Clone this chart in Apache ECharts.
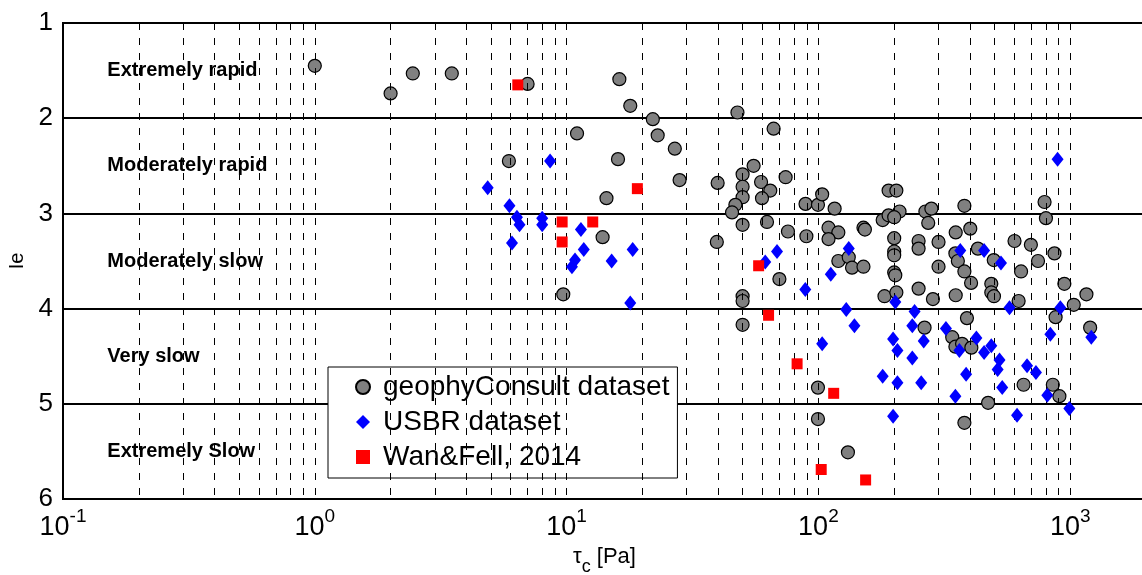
<!DOCTYPE html>
<html>
<head>
<meta charset="utf-8">
<script src="https://cdn.jsdelivr.net/npm/echarts@6/dist/echarts.min.js"></script>
<style>
  html, body { margin: 0; padding: 0; background: #fff; }
  #chart { width: 1142px; height: 575px; }
</style>
</head>
<body>
<div id="chart"></div>
<script>
// values: [tau_c (Pa), Ie]
const geophyConsult = [
  [1.0, 1.45], [2.0, 1.74], [2.45, 1.53], [3.5, 1.53], [7.0, 1.64], [5.9, 2.45],
  [9.7, 3.85], [16.2, 1.59], [17.9, 1.87], [22.0, 2.01], [47.7, 1.94], [11.0, 2.16],
  [23.0, 2.18], [26.9, 2.32], [66.4, 2.11], [16.0, 2.43], [28.1, 2.65], [39.8, 2.68],
  [50, 2.59], [50, 2.72], [55.3, 2.50], [59.2, 2.67], [64.4, 2.76], [74.1, 2.62],
  [14.4, 2.84], [50, 2.83], [59.7, 2.84], [46.8, 2.91], [45.4, 2.99], [50, 3.12],
  [62.5, 3.09], [13.9, 3.25], [39.5, 3.30], [50, 3.87], [50, 3.92], [50, 4.17],
  [75.7, 3.19], [70, 3.69], [88.9, 2.90], [99.6, 2.91], [103.5, 2.80], [116, 2.95],
  [89.6, 3.24], [109.7, 3.15], [120, 3.20], [109.7, 3.27], [151, 3.15], [153, 3.17],
  [120, 3.50], [132, 3.46], [136, 3.57], [151, 3.56], [183, 3.87], [190, 2.76],
  [204, 2.76], [180, 3.07], [190, 3.02], [210, 2.98], [200, 3.04], [200, 3.26],
  [200, 3.40], [200, 3.44], [200, 3.62], [202, 3.65], [204, 3.83], [250, 3.29],
  [250, 3.37], [250, 3.79], [300, 3.30], [300, 3.56], [285, 3.90], [266, 2.98],
  [281, 2.95], [273, 3.10], [264, 4.20], [340, 4.30], [350, 4.40], [99.6, 4.83],
  [99.6, 5.16], [131, 5.51], [380, 2.92], [791, 2.88], [801, 3.05], [351, 3.20],
  [401, 3.16], [601, 3.29], [698, 3.33], [866, 3.42], [430, 3.37], [497, 3.49],
  [745, 3.50], [350, 3.42], [358, 3.50], [380, 3.61], [638, 3.61], [404, 3.73],
  [486, 3.74], [486, 3.83], [498, 3.87], [351, 3.86], [948, 3.74], [1160, 3.85],
  [624, 3.92], [1033, 3.96], [389, 4.10], [875, 4.09], [1200, 4.20], [372, 4.37],
  [405, 4.41], [653, 4.80], [853, 4.80], [906, 4.92], [472, 4.99], [380, 5.20]
];

const usbr = [
  [8.6, 2.45], [4.86, 2.73], [5.93, 2.92], [6.35, 3.04], [6.5, 3.12], [8.0, 3.05],
  [8.0, 3.12], [6.07, 3.31], [11.4, 3.17], [11.7, 3.38], [10.8, 3.49], [10.5, 3.56],
  [15.1, 3.50], [18.3, 3.38], [17.9, 3.94], [61.5, 3.51], [68.5, 3.40], [88.7, 3.80],
  [132, 3.37], [112, 3.64], [202, 3.93], [129, 4.01], [139, 4.18], [103.5, 4.37],
  [198, 4.32], [206, 4.44], [180, 4.71], [206, 4.78], [198, 5.13], [241, 4.03],
  [236, 4.18], [262, 4.34], [236, 4.52], [256, 4.78], [321, 4.21], [350, 4.92],
  [891, 2.43], [366, 3.39], [455, 3.39], [531, 3.52], [574, 3.99], [914, 3.99],
  [1213, 4.30], [834, 4.27], [363, 4.44], [424, 4.31], [455, 4.46], [486, 4.39],
  [524, 4.54], [515, 4.64], [386, 4.69], [537, 4.83], [674, 4.60], [731, 4.67],
  [811, 4.91], [992, 5.05], [615, 5.12]
];

const wanFell = [
  [6.4, 1.65], [19.1, 2.74], [9.6, 3.09], [9.6, 3.30], [12.7, 3.09], [57.9, 3.55],
  [63.4, 4.07], [82.3, 4.58], [115, 4.89], [102.6, 5.69], [154, 5.80]
];

const zoneNames = ['Extremely rapid', 'Moderately rapid', 'Moderately slow', 'Very slow', 'Extremely Slow'];
const zoneIe = [1.5, 2.5, 3.5, 4.5, 5.5];
const zoneX = 0.15;

const xMin = 0.1, xMax = 2000;

// dashed vertical grid at 1..9 x 10^d
const xGridLines = [];
for (let d = -1; d <= 3; d++) {
  for (let k = 1; k <= 9; k++) {
    const v = k * Math.pow(10, d);
    if (v > xMin && v < xMax) xGridLines.push(+v.toPrecision(3));
  }
}

const font = 'Liberation Sans, Arial, sans-serif';
const chart = echarts.init(document.getElementById('chart'));

const option = {
  animation: false,
  backgroundColor: '#fff',
  textStyle: { fontFamily: font, color: '#000' },
  grid: {
    left: 63, top: 23, width: 1083, height: 476,
    outerBoundsMode: 'none', containLabel: false,
    show: true, borderColor: '#000', borderWidth: 2, backgroundColor: 'transparent'
  },
  legend: {
    orient: 'vertical',
    left: 328, top: 367,
    padding: [5, 8, 6, 27],
    itemWidth: 14, itemHeight: 14, itemGap: 5,
    backgroundColor: '#fff', borderColor: '#000', borderWidth: 1,
    textStyle: { fontSize: 28, lineHeight: 30, color: '#000', fontFamily: font, padding: [0, 0, 0, 8] },
    data: ['geophyConsult dataset', 'USBR dataset', 'Wan&Fell, 2014']
  },
  xAxis: {
    type: 'log', logBase: 10, min: xMin, max: xMax,
    name: '{t|τ}{c|c}{t| [Pa]}',
    nameLocation: 'middle', nameGap: 40,
    nameTextStyle: {
      rich: {
        t: { fontSize: 22, fontFamily: font, color: '#000', verticalAlign: 'top', lineHeight: 26 },
        c: { fontSize: 18, fontFamily: font, color: '#000', verticalAlign: 'bottom', lineHeight: 30 }
      }
    },
    axisLine: { show: true, lineStyle: { color: '#000', width: 2 } },
    axisTick: { show: false },
    splitLine: { show: false },
    axisLabel: {
      margin: 8,
      formatter: function (v) {
        const e = Math.round(Math.log10(v));
        if (Math.abs(v - Math.pow(10, e)) > 1e-6 * v) return '';
        return '{b|10}{s|' + e + '}';
      },
      rich: {
        b: { fontSize: 27, fontFamily: font, color: '#000', verticalAlign: 'bottom', lineHeight: 34 },
        s: { fontSize: 19, fontFamily: font, color: '#000', verticalAlign: 'top', lineHeight: 20 }
      }
    }
  },
  yAxis: {
    type: 'value', inverse: true, min: 1, max: 6, interval: 1,
    name: 'Ie', nameLocation: 'middle', nameRotate: 90, nameGap: 36,
    nameTextStyle: { fontSize: 20, color: '#000', fontFamily: font },
    axisLine: { show: true, lineStyle: { color: '#000', width: 2 } },
    axisTick: { show: false },
    splitLine: { show: true, lineStyle: { color: '#000', width: 2 } },
    axisLabel: { fontSize: 26, color: '#000', margin: 10, fontFamily: font }
  },
  series: [
    {
      name: 'grid',
      type: 'scatter',
      data: [],
      z: 1,
      silent: true,
      markLine: {
        silent: true,
        symbol: ['none', 'none'],
        label: { show: false },
        lineStyle: { color: '#000', type: [7, 8], width: 1 },
        data: xGridLines.map(v => ({ xAxis: v }))
      }
    },
    {
      name: 'zones',
      type: 'scatter',
      z: 3,
      symbolSize: 0,
      silent: true,
      itemStyle: { opacity: 1 },
      data: zoneNames.map((n, i) => [zoneX, zoneIe[i], n]),
      label: {
        show: true, position: 'right', distance: 0,
        formatter: p => p.value[2],
        fontSize: 20, fontWeight: 'bold', color: '#000', opacity: 1, fontFamily: font
      }
    },
    {
      name: 'geophyConsult dataset',
      type: 'scatter',
      z: 4,
      symbol: 'circle',
      symbolSize: 13,
      itemStyle: { color: '#808080', borderColor: '#000', borderWidth: 1.2, opacity: 1 },
      data: geophyConsult
    },
    {
      name: 'USBR dataset',
      type: 'scatter',
      z: 5,
      symbol: 'diamond',
      symbolSize: [12, 15],
      itemStyle: { color: '#0000ff', opacity: 1 },
      data: usbr
    },
    {
      name: 'Wan&Fell, 2014',
      type: 'scatter',
      z: 6,
      symbol: 'rect',
      symbolSize: 11,
      itemStyle: { color: '#ff0000', opacity: 1 },
      data: wanFell
    }
  ]
};

option && chart.setOption(option);
</script>
</body>
</html>
